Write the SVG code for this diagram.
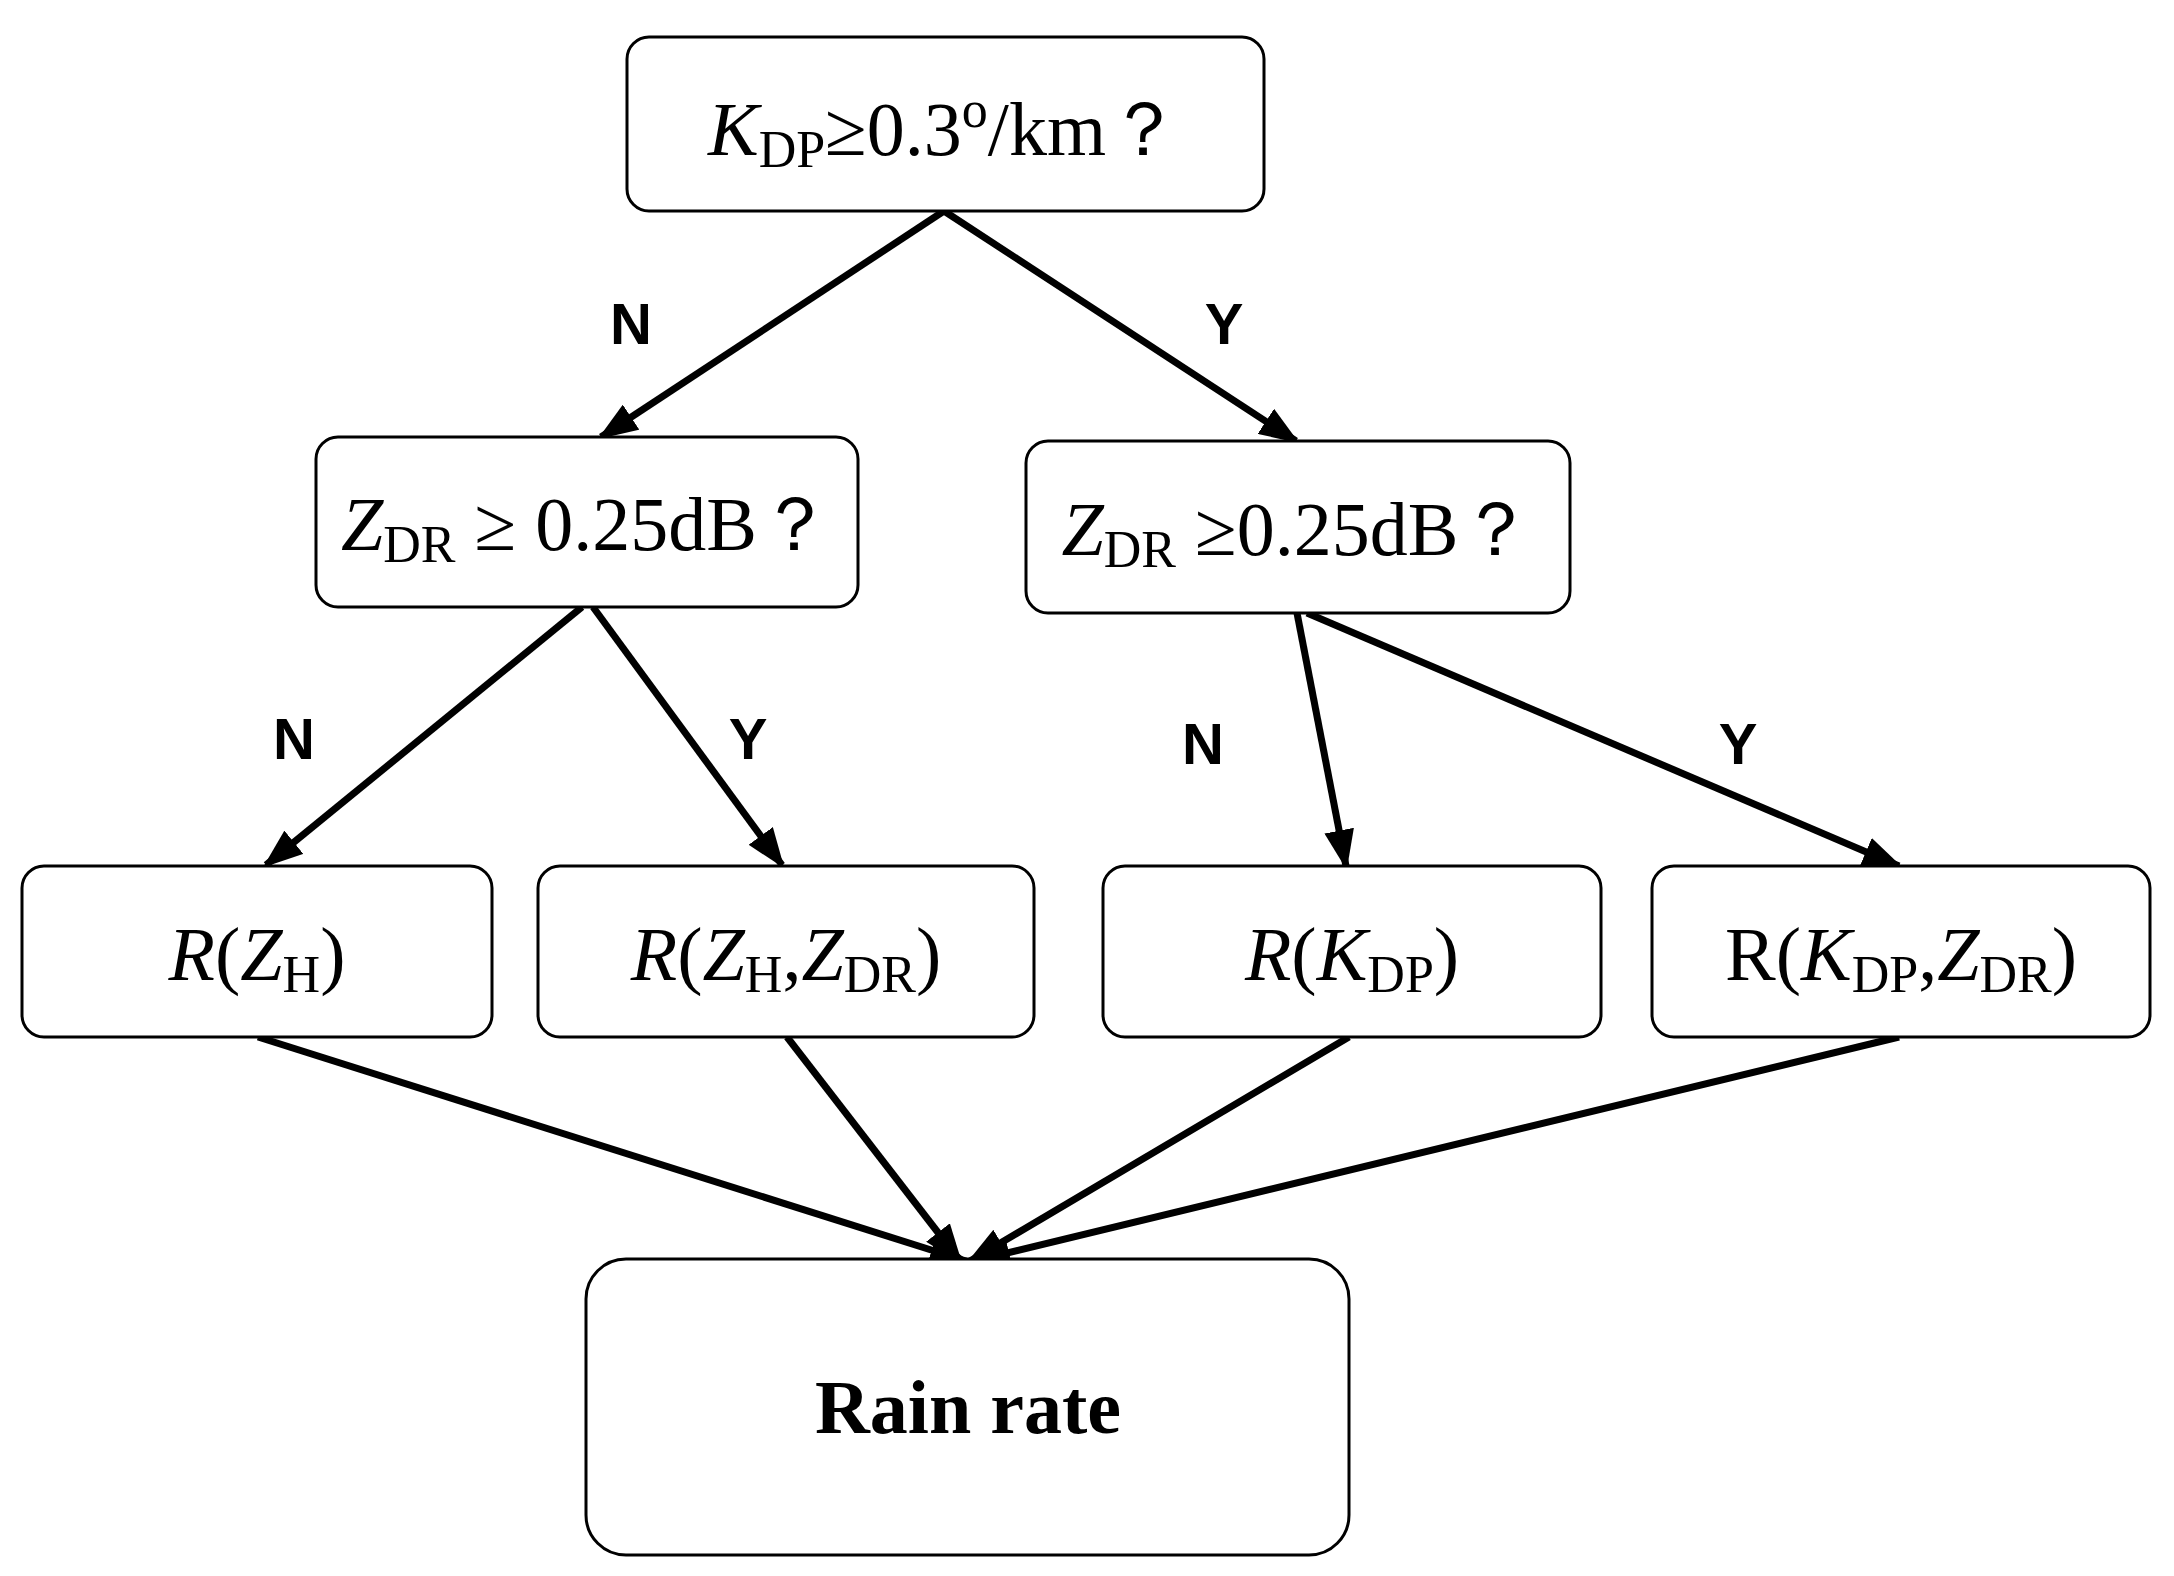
<svg xmlns="http://www.w3.org/2000/svg" width="2174" height="1576" viewBox="0 0 2174 1576">
<style>
.b{fill:#fff;stroke:#000;stroke-width:3}
.t{font-family:"Liberation Serif",serif;font-size:76px;text-anchor:middle}
.l{font-family:"Liberation Sans",sans-serif;font-weight:bold;font-size:58px;text-anchor:middle}
.c{stroke:#000;stroke-width:7;fill:none;marker-end:url(#a)}
</style>
<defs><marker id="a" markerUnits="userSpaceOnUse" markerWidth="40" markerHeight="30" refX="36" refY="15" orient="auto"><path d="M0,0 L40,15 L0,30 Z"/></marker></defs>
<rect width="2174" height="1576" fill="#fff"/>
<g id="connectors">
<path class="c" d="M944,211 L601,437"/>
<path class="c" d="M944,211 L1296,441"/>
<path class="c" d="M582,607 L266,865"/>
<path class="c" d="M593,607 L782,865"/>
<path class="c" d="M1297,613 L1346,866"/>
<path class="c" d="M1307,613 L1899,866"/>
<path class="c" d="M258,1037 L966,1261"/>
<path class="c" d="M787,1037 L960,1261"/>
<path class="c" d="M1349,1037 L970,1261"/>
<path class="c" d="M1899,1037 L974,1261"/>
</g>
<g id="labels">
<text class="l" x="631" y="344">N</text>
<text class="l" x="1224" y="344">Y</text>
<text class="l" x="294" y="759">N</text>
<text class="l" x="748" y="759">Y</text>
<text class="l" x="1203" y="764">N</text>
<text class="l" x="1738" y="764">Y</text>
</g>
<g id="n0"><rect class="b" x="627" y="37" width="637" height="174" rx="22"/>
<text class="t" x="945" y="155"><tspan font-style="italic">K</tspan><tspan font-size="52" dy="12">DP</tspan><tspan dy="-12">≥0.3</tspan><tspan font-size="52" dy="-28">o</tspan><tspan dy="28">/km？</tspan></text></g>
<g id="n1"><rect class="b" x="316" y="437" width="542" height="170" rx="22"/>
<text class="t" x="587" y="550"><tspan font-style="italic">Z</tspan><tspan font-size="52" dy="12">DR</tspan><tspan dy="-12">  ≥ 0.25dB？</tspan></text></g>
<g id="n2"><rect class="b" x="1026" y="441" width="544" height="172" rx="22"/>
<text class="t" x="1298" y="555"><tspan font-style="italic">Z</tspan><tspan font-size="52" dy="12">DR</tspan><tspan dy="-12">   ≥0.25dB？</tspan></text></g>
<g id="n3"><rect class="b" x="22" y="866" width="470" height="171" rx="22"/>
<text class="t" x="257" y="980"><tspan font-style="italic">R</tspan>(<tspan font-style="italic">Z</tspan><tspan font-size="52" dy="12">H</tspan><tspan dy="-12">)</tspan></text></g>
<g id="n4"><rect class="b" x="538" y="866" width="496" height="171" rx="22"/>
<text class="t" x="786" y="980"><tspan font-style="italic">R</tspan>(<tspan font-style="italic">Z</tspan><tspan font-size="52" dy="12">H</tspan><tspan dy="-12">,</tspan><tspan font-style="italic">Z</tspan><tspan font-size="52" dy="12">DR</tspan><tspan dy="-12">)</tspan></text></g>
<g id="n5"><rect class="b" x="1103" y="866" width="498" height="171" rx="22"/>
<text class="t" x="1352" y="980"><tspan font-style="italic">R</tspan>(<tspan font-style="italic">K</tspan><tspan font-size="52" dy="12">DP</tspan><tspan dy="-12">)</tspan></text></g>
<g id="n6"><rect class="b" x="1652" y="866" width="498" height="171" rx="22"/>
<text class="t" x="1901" y="980">R(<tspan font-style="italic">K</tspan><tspan font-size="52" dy="12">DP</tspan><tspan dy="-12">,</tspan><tspan font-style="italic">Z</tspan><tspan font-size="52" dy="12">DR</tspan><tspan dy="-12">)</tspan></text></g>
<g id="n7"><rect class="b" x="586" y="1259" width="763" height="296" rx="40"/>
<text class="t" x="968" y="1433" font-weight="bold" font-size="70">Rain rate</text></g>
</svg>
